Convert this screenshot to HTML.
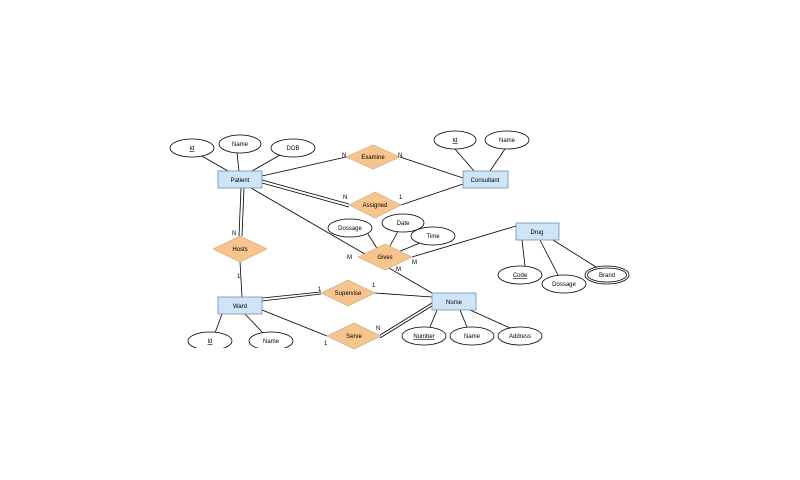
<!DOCTYPE html>
<html><head><meta charset="utf-8"><style>
html,body{margin:0;padding:0;background:#fff;width:800px;height:480px;overflow:hidden}
text{font-family:"Liberation Sans",sans-serif;font-size:6px;fill:#000}
</style></head><body>
<svg width="800" height="480" viewBox="0 0 800 480" xmlns="http://www.w3.org/2000/svg">
<defs><clipPath id="c"><rect x="0" y="0" width="800" height="348"/></clipPath></defs>
<g stroke="#000" stroke-width="0.8" fill="none">
<!-- attribute lines -->
<line x1="200" y1="155" x2="228" y2="171"/>
<line x1="237" y1="153" x2="239" y2="171"/>
<line x1="280" y1="155" x2="252" y2="171"/>
<line x1="455" y1="149" x2="474" y2="171"/>
<line x1="505" y1="149" x2="490" y2="171"/>
<line x1="368" y1="234" x2="378" y2="250"/>
<line x1="398" y1="231" x2="389" y2="248"/>
<line x1="420" y1="243" x2="398" y2="252"/>
<line x1="522" y1="240" x2="525" y2="266"/>
<line x1="540" y1="240" x2="558" y2="275"/>
<line x1="553" y1="240" x2="596" y2="267"/>
<line x1="222" y1="314" x2="215" y2="333"/>
<line x1="245" y1="314" x2="263" y2="333"/>
<line x1="437" y1="310" x2="430" y2="327"/>
<line x1="460" y1="310" x2="467" y2="327"/>
<line x1="470" y1="310" x2="510" y2="328"/>
<!-- relationship lines -->
<line x1="262" y1="176" x2="346" y2="157"/>
<line x1="400" y1="157" x2="463" y2="178"/>
<line x1="262" y1="180" x2="349" y2="204"/>
<line x1="262" y1="183" x2="349" y2="207"/>
<line x1="401" y1="205" x2="463" y2="184"/>
<line x1="251" y1="188" x2="432" y2="293"/>
<line x1="412" y1="257" x2="516" y2="226"/>
<line x1="241" y1="188" x2="239" y2="236"/>
<line x1="244" y1="188" x2="242" y2="236"/>
<line x1="240" y1="262" x2="242" y2="297"/>
<line x1="262" y1="298" x2="321" y2="292"/>
<line x1="262" y1="301" x2="321" y2="294"/>
<line x1="375" y1="293" x2="432" y2="297"/>
<line x1="262" y1="310" x2="327" y2="336"/>
<line x1="380" y1="335" x2="432" y2="303"/>
<line x1="380" y1="338" x2="432" y2="306"/>
</g>
<g stroke="#000" stroke-width="0.8" fill="#fff">
<ellipse cx="192" cy="148" rx="22" ry="9"/>
<ellipse cx="240" cy="144" rx="21" ry="9"/>
<ellipse cx="293" cy="148" rx="22" ry="9"/>
<ellipse cx="455" cy="140" rx="21" ry="9"/>
<ellipse cx="507" cy="140" rx="22" ry="9"/>
<ellipse cx="350" cy="228" rx="22" ry="9"/>
<ellipse cx="403" cy="223" rx="21" ry="9"/>
<ellipse cx="433" cy="236" rx="22" ry="9"/>
<ellipse cx="520" cy="275" rx="22" ry="9"/>
<ellipse cx="564" cy="284" rx="22" ry="9"/>
<ellipse cx="607" cy="275" rx="22" ry="9"/>
<ellipse cx="607" cy="275" rx="19.5" ry="7"/>
<ellipse cx="424" cy="336" rx="22" ry="9"/>
<ellipse cx="472" cy="336" rx="22" ry="9"/>
<ellipse cx="520" cy="336" rx="22" ry="9"/>
<g clip-path="url(#c)">
<ellipse cx="210" cy="341" rx="22" ry="9"/>
<ellipse cx="271" cy="341" rx="22" ry="9"/>
</g>
</g>
<g stroke="#6b8fb0" stroke-width="0.8" fill="#cfe5f7">
<rect x="218" y="171" width="44" height="17"/>
<rect x="463" y="171" width="45" height="17"/>
<rect x="516" y="223" width="43" height="17"/>
<rect x="218" y="297" width="44" height="17"/>
<rect x="432" y="293" width="44" height="17"/>
</g>
<g stroke="#c9a57a" stroke-width="0.6" fill="#f8c48e">
<polygon points="346,157 373,145 400,157 373,169"/>
<polygon points="349,205 375,192 401,205 375,218"/>
<polygon points="358,257 385,244 412,257 385,270"/>
<polygon points="213,249 240,236 267,249 240,262"/>
<polygon points="321,293 348,280 375,293 348,306"/>
<polygon points="327,336 354,323 381,336 354,349"/>
</g>
<g text-anchor="middle">
<text x="240" y="182">Patient</text>
<text x="485" y="182">Consultant</text>
<text x="537" y="234">Drug</text>
<text x="240" y="308">Ward</text>
<text x="454" y="304">Nurse</text>
<text x="373" y="159">Examine</text>
<text x="375" y="207">Assigned</text>
<text x="385" y="259">Gives</text>
<text x="240" y="251">Hosts</text>
<text x="348" y="295">Supervise</text>
<text x="354" y="338">Serve</text>
<text x="192" y="150" text-decoration="underline">Id</text>
<text x="240" y="146">Name</text>
<text x="293" y="150">DOB</text>
<text x="455" y="142" text-decoration="underline">Id</text>
<text x="507" y="142">Name</text>
<text x="350" y="230">Dossage</text>
<text x="403" y="225">Date</text>
<text x="433" y="238">Time</text>
<text x="520" y="277" text-decoration="underline">Code</text>
<text x="564" y="286">Dossage</text>
<text x="607" y="277">Brand</text>
<text x="424" y="338" text-decoration="underline">Number</text>
<text x="472" y="338">Name</text>
<text x="520" y="338">Address</text>
<text x="210" y="343" text-decoration="underline">Id</text>
<text x="271" y="343">Name</text>
</g>
<text x="342" y="157">N</text>
<text x="398" y="157">N</text>
<text x="343" y="199">N</text>
<text x="399" y="199">1</text>
<text x="347" y="259">M</text>
<text x="412" y="264">M</text>
<text x="396" y="271">M</text>
<text x="232" y="235">N</text>
<text x="237" y="278">1</text>
<text x="318" y="291">1</text>
<text x="372" y="287">1</text>
<text x="324" y="345">1</text>
<text x="376" y="330">N</text>
</svg>
</body></html>
